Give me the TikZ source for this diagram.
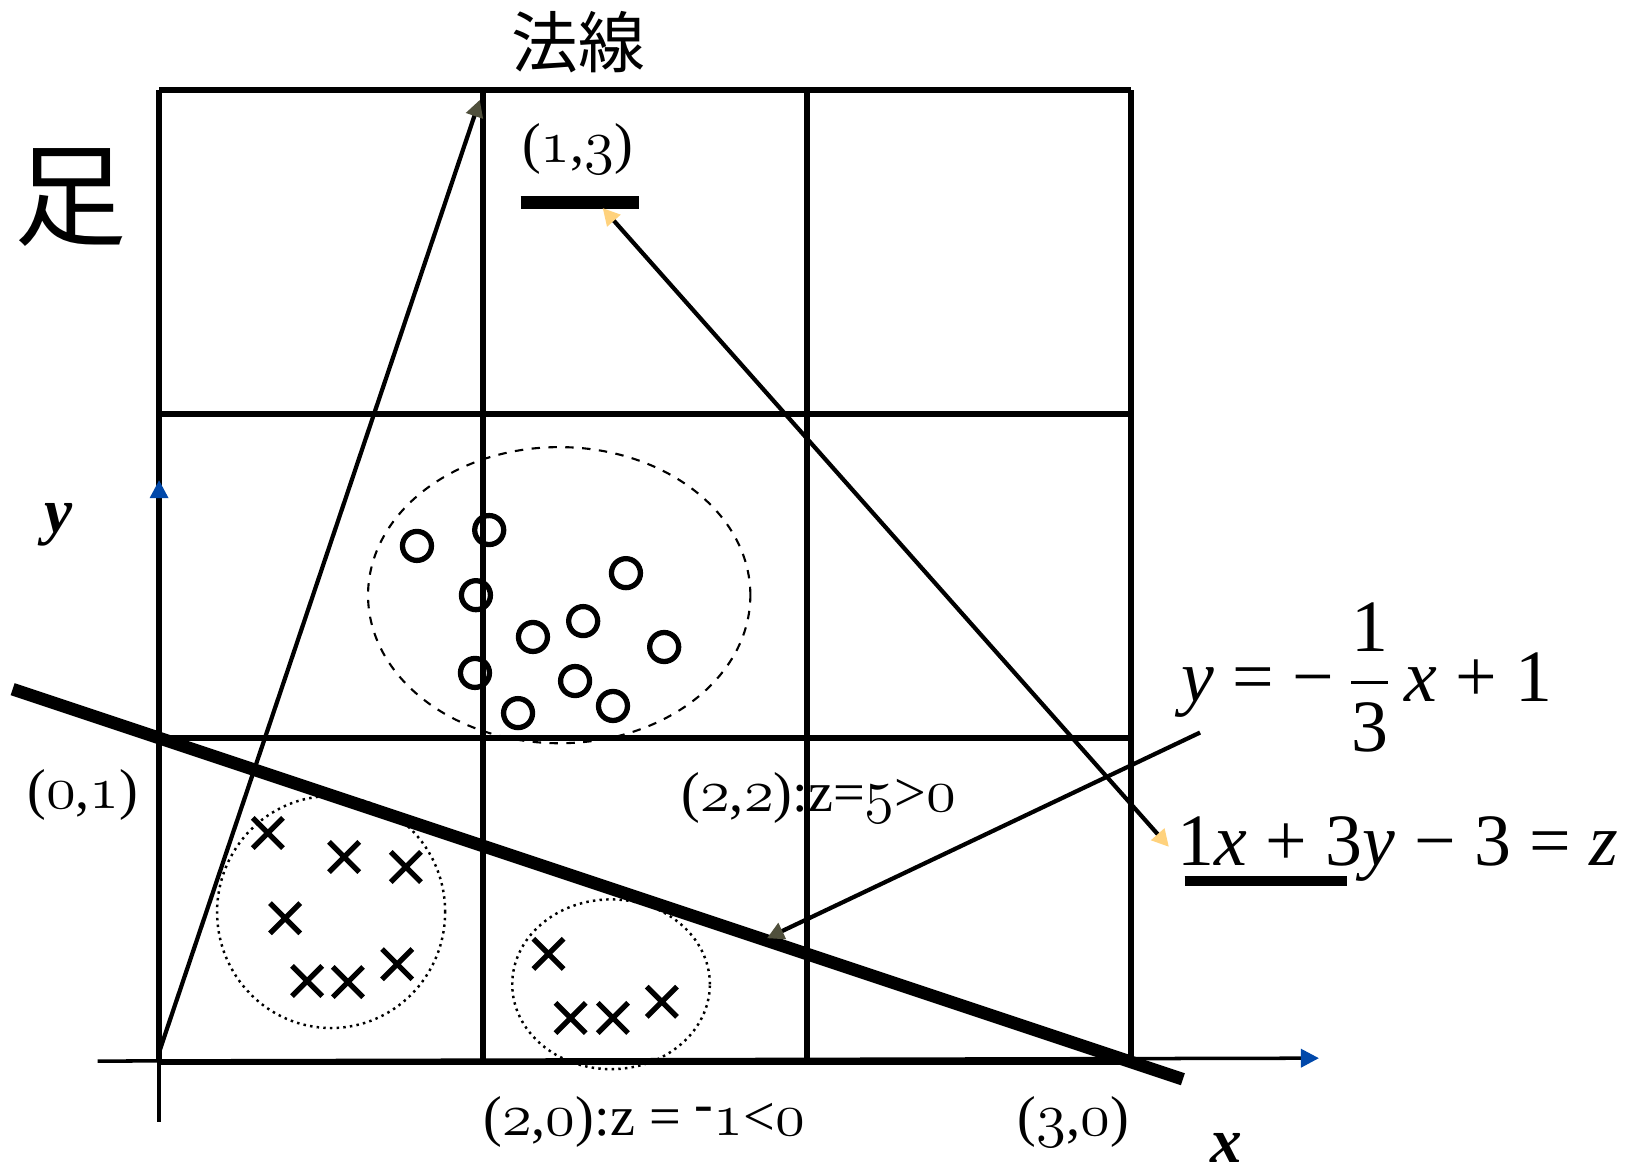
\documentclass[tikz,border=0pt]{standalone}
\usepackage{amsmath}
\usepackage{fontspec}
\newfontfamily\cjk{Noto Sans CJK JP}
\newfontfamily\tms{Liberation Serif}
\usetikzlibrary{arrows.meta,positioning,calc,shapes.misc}
\definecolor{axisblue}{RGB}{0,72,170}
\definecolor{tipolive}{RGB}{80,80,60}
\definecolor{tipyellow}{RGB}{255,210,125}
\newcommand\osn[1]{{\usefont{OML}{cmm}{m}{it}#1}}
\tikzset{
  gridline/.style={line width=1.5pt},
  axisline/.style={line width=1pt, -{Triangle[color=axisblue, length=0.18cm, width=0.18cm]}},
  conn/.style={line width=1.2pt},
  oval/.style={circle, draw, line width=1.5pt, minimum size=0.29cm, inner sep=0pt},
  xmark/.style={cross out, draw, line width=1.5pt, minimum size=0.25cm, inner sep=0pt},
  lbl/.style={font=\tms\fontsize{16}{19}\selectfont, inner sep=0pt},
  eqn/.style={font=\tms\fontsize{21}{25}\selectfont, inner sep=0pt, anchor=base west},
  bolditalic/.style={font=\tms\bfseries\itshape\fontsize{18}{22}\selectfont, inner sep=0pt},
  cluster/.style={line width=0.7pt, dash pattern=on 0.7pt off 1.2pt},
}

\begin{document}
\begin{tikzpicture}[x=3.24cm, y=3.24cm]
\useasboundingbox (-0.491,-0.340) rectangle (4.537,3.278);

% grid and axes
\foreach \k in {0,...,3} {
  \draw[gridline] (\k,0) -- (\k,3);
  \draw[gridline] (0,\k) -- (3,\k);
}
\draw[gridline, line width=1.9pt] (1,0) -- (1,3) (2,0) -- (2,3);
\coordinate (xs) at (-0.19,0.003);
\coordinate (xe) at (3.58,0.012);
\coordinate (ys) at (0,-0.185);
\coordinate (ye) at (0,1.796);
\draw[axisline] (xs) -- (xe);
\draw[axisline] (ys) -- (ye);

% clusters
\draw[line width=0.6pt, dash pattern=on 2.4pt off 2.4pt] (1.235,1.441) ellipse [x radius=0.59, y radius=0.457];
\draw[cluster] (0.531,0.463) ellipse [x radius=0.352, y radius=0.358];
\draw[cluster] (1.395,0.240) ellipse [x radius=0.305, y radius=0.262];

% markers
\foreach \p [count=\i] in {(0.796,1.593),(1.019,1.642),(0.978,1.441),(1.441,1.509),
    (1.154,1.312),(1.309,1.361),(1.559,1.281),(0.975,1.201),(1.284,1.176),(1.401,1.099),(1.108,1.077)}
  \node[oval] (o\i) at \p {};
\foreach \p [count=\i] in {(0.336,0.707),(0.571,0.633),(0.762,0.602),(0.389,0.444),
    (0.457,0.250),(0.583,0.247),(0.735,0.302),(1.202,0.334),(1.270,0.136),(1.401,0.136),(1.552,0.186)}
  \node[xmark] (x\i) at \p {};

% boundary
\coordinate (lineL) at (-0.452,1.151);
\coordinate (lineR) at (3.16,-0.053);
\draw[line width=3.6pt] (lineL) -- (lineR);

% normal vector
\coordinate (O) at (0,0.03);
\coordinate (N) at (0.99,2.97);
\draw[conn, -{Triangle[color=tipolive, length=0.17cm, width=0.17cm]}] (O) -- (N);

% labels
\node[lbl] (p13) at (1.292,2.819) {(\osn{1},\osn{3})};
\coordinate (barL) at (1.116,2.653);
\coordinate (barR) at (1.481,2.653);
\draw[line width=3.5pt] (barL) -- (barR);
\node[lbl] (p01) at (-0.235,0.825) {(\osn{0},\osn{1})};
\node[lbl] (p22) at (2.036,0.815) {(\osn{2},\osn{2}):z=\osn{5}>\osn{0}};
\node[lbl] (p20) at (1.497,-0.186) {(\osn{2},\osn{0}):z = \raisebox{0.5ex}{-}\osn{1}<\osn{0}};
\node[lbl] (p30) at (2.822,-0.186) {(\osn{3},\osn{0})};
\node[font=\cjk\fontsize{19}{22}\selectfont, inner sep=0pt] (normal) at (1.295,3.149) {法線};
\node[font=\cjk\fontsize{32}{36}\selectfont, inner sep=0pt] (title) at (-0.272,2.669) {足};
\node[bolditalic] (ylab) at (-0.309,1.658) {y};
\node[bolditalic] (xlab) at (3.293,-0.266) {x};

% equations
\node[eqn] (eqA) at (3.154,1.114) {\textit{y} = −\,$\dfrac{\hbox{1}}{\hbox{3}}$\,\textit{x} + 1};
\node[eqn] (eqB) at (3.142,0.606) {1\textit{x} + 3\textit{y} − 3 = \textit{z}};
\coordinate (ulL) at (3.165,0.559);
\coordinate (ulR) at (3.667,0.559);
\draw[line width=3pt] (ulL) -- (ulR);

% connectors
\coordinate (eqAtail) at (3.213,1.017);
\coordinate (foot) at (1.876,0.382);
\draw[conn, -{Triangle[color=tipolive, length=0.17cm, width=0.17cm]}] (eqAtail) -- (foot);
\coordinate (barTip) at (1.369,2.636);
\coordinate (eqBtip) at (3.117,0.664);
\draw[conn, {Triangle[color=tipyellow, length=0.17cm, width=0.17cm]}-{Triangle[color=tipyellow, length=0.17cm, width=0.17cm]}] (barTip) -- (eqBtip);
\end{tikzpicture}
\end{document}
